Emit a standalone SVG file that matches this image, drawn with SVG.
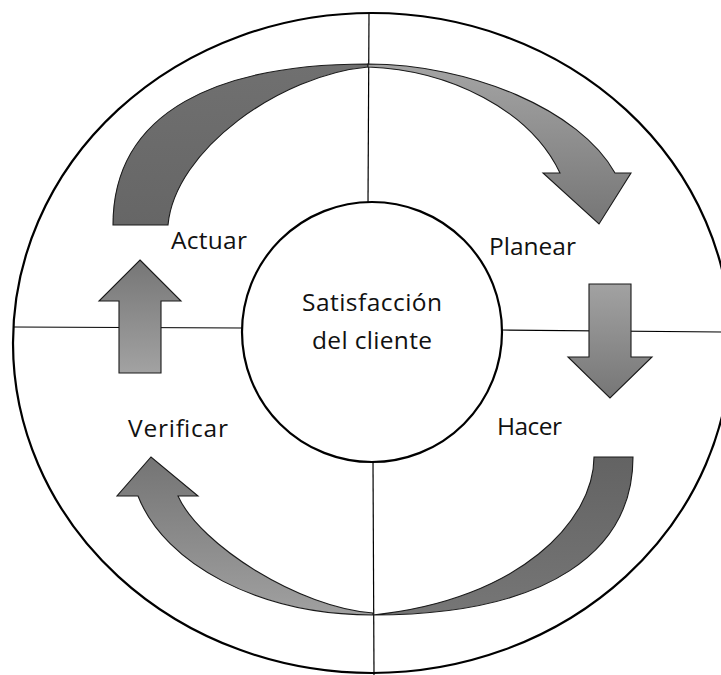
<svg xmlns="http://www.w3.org/2000/svg" width="721" height="675" viewBox="0 0 721 675">
<defs>
<style>
.ring{fill:none;stroke:#000;stroke-width:2.2}
.div{stroke:#000;stroke-width:1.2;fill:none}
.arr{stroke:#1a1a1a;stroke-width:1.1;stroke-linejoin:miter}
.lbl{font-family:"Open Sans","Liberation Sans",sans-serif;font-size:24.5px;fill:#111}
</style>
<linearGradient id="gDown" x1="0" y1="0" x2="0" y2="1"><stop offset="0" stop-color="#a2a2a2"/><stop offset="1" stop-color="#767676"/></linearGradient>
<linearGradient id="gUp" x1="0" y1="0" x2="0" y2="1"><stop offset="0" stop-color="#767676"/><stop offset="1" stop-color="#a2a2a2"/></linearGradient>
<linearGradient id="gTR" x1="0" y1="0" x2="0" y2="1"><stop offset="0" stop-color="#a4a4a4"/><stop offset="1" stop-color="#767676"/></linearGradient>
<linearGradient id="gBL" x1="0" y1="1" x2="0" y2="0"><stop offset="0" stop-color="#a0a0a0"/><stop offset="1" stop-color="#747474"/></linearGradient>
<linearGradient id="gDark" x1="0" y1="0" x2="0" y2="1"><stop offset="0" stop-color="#707070"/><stop offset="1" stop-color="#666666"/></linearGradient>
<linearGradient id="gDark2" x1="0" y1="0" x2="0" y2="1"><stop offset="0" stop-color="#636363"/><stop offset="1" stop-color="#767676"/></linearGradient>
</defs>
<g id="outer-circle"><ellipse class="ring" cx="372" cy="343" rx="359" ry="330"/></g>
<g id="connectors">
<line class="div" x1="369" y1="13" x2="368" y2="203"/>
<line class="div" x1="373" y1="462" x2="374" y2="675"/>
<line class="div" x1="13" y1="327" x2="242" y2="328"/>
<line class="div" x1="502" y1="330" x2="721" y2="332"/>
</g>
<g id="arrow-actuar-planear">
<path class="arr" fill="url(#gDark)" d="M113,225 C113,110 220,64 368,64 L368,67 C280,75 175,150 168,225 Z"/>
<path class="arr" fill="url(#gTR)" d="M368,64 C470,64 580,110 615,173 L631,173 L599,224 L543,173 L560,173 C530,110 450,70 368,67 Z"/>
</g>
<g id="arrow-planear-hacer">
<path class="arr" fill="url(#gDown)" d="M589,284 L631,284 L631,357 L652,357 L610,398 L568,357 L589,357 Z"/>
</g>
<g id="arrow-hacer-verificar">
<path class="arr" fill="url(#gDark2)" d="M594,457 L633,457 C633,550 550,615 373,615 C520,600 594,520 594,457 Z"/>
<path class="arr" fill="url(#gBL)" d="M373,615 C260,615 165,565 138,496 L117,496 L151,457 L198,496 L178,496 C200,545 300,608 373,613 Z"/>
</g>
<g id="arrow-verificar-actuar">
<path class="arr" fill="url(#gUp)" d="M140,260 L181,301 L161,301 L161,373 L119,373 L119,301 L99,301 Z"/>
</g>
<g id="center">
<circle class="ring" cx="372" cy="332" r="130" fill="#fff"/>
<text class="lbl" x="372" y="311" text-anchor="middle" textLength="140">Satisfacción</text>
<text class="lbl" x="372" y="349" text-anchor="middle" textLength="120">del cliente</text>
</g>
<g id="labels">
<text class="lbl" x="171" y="249" textLength="76">Actuar</text>
<text class="lbl" x="489" y="255" textLength="87">Planear</text>
<text class="lbl" x="497" y="435" textLength="65">Hacer</text>
<text class="lbl" x="128" y="437" textLength="100">Verificar</text>
</g>
</svg>
